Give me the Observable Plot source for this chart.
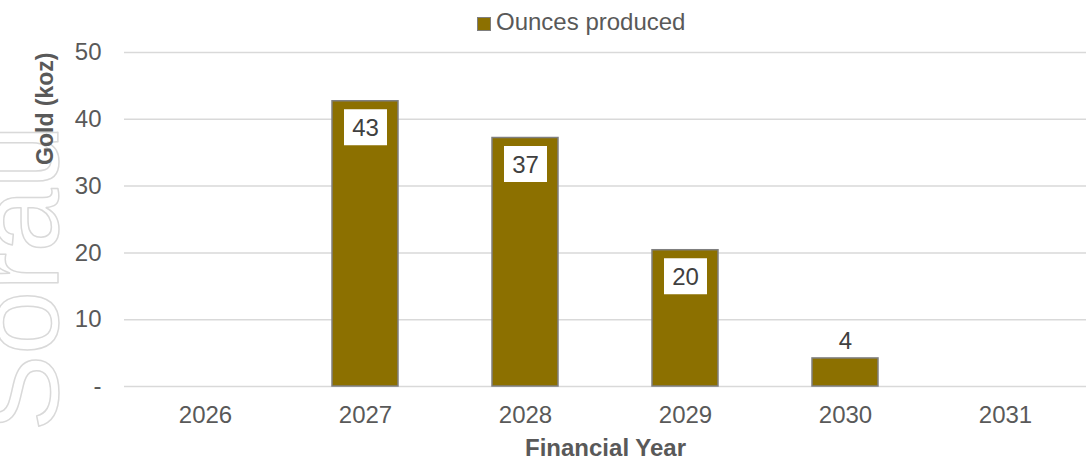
<!DOCTYPE html>
<html>
<head>
<meta charset="utf-8">
<script src="https://cdn.jsdelivr.net/npm/d3@7"></script>
<script src="https://cdn.jsdelivr.net/npm/@observablehq/plot@0.6"></script>
<style>
  html, body { margin: 0; padding: 0; background: #fff; }
  #wrap { position: relative; width: 1086px; height: 460px; overflow: hidden; font-family: "Liberation Sans", Arial, sans-serif; }
  #legend { position: absolute; left: 477px; top: 8px; display: flex; align-items: center; font-size: 24px; color: #595959; line-height: 28px; }
  #legend .sw { width: 12px; height: 12px; background: #8c7000; border: 1px solid #7f7f7f; margin-right: 5px; position: relative; top: 2px; }
</style>
</head>
<body>
<div id="wrap">
  <div id="legend"><span class="sw"></span><span>Ounces produced</span></div>
</div>
<script>
const years = ["2026", "2027", "2028", "2029", "2030", "2031"];
const ounces = [null, 42.7, 37.2, 20.4, 4.2, null];
const yTicks = [0, 10, 20, 30, 40, 50];
const seriesName = "Ounces produced";
const xTitle = "Financial Year";
const yTitle = "Gold (koz)";
const watermark = "Sorau";

const data = years.map((year, i) => ({year, value: ounces[i]}));
const shown = data.filter(d => d.value != null);
const big = shown.filter(d => d.value >= 10);
const small = shown.filter(d => d.value < 10);

const boxSymbol = { draw(context) { context.rect(-21.5, -18, 43, 36); } };
const font = '"Liberation Sans", Arial, sans-serif';

const chart = Plot.plot({
  width: 1086,
  height: 460,
  marginTop: 52,
  marginBottom: 74,
  marginLeft: 124,
  marginRight: 0,
  style: { fontFamily: font, fontSize: "24px", color: "#595959", background: "transparent", overflow: "visible" },
  x: { domain: years, paddingInner: 0.59, paddingOuter: 0.295, label: null },
  y: { domain: [0, 50], label: null },
  marks: [
    Plot.text([watermark], {
      frameAnchor: "bottom-left", dx: -67, dy: 45, rotate: -90,
      textAnchor: "start", lineAnchor: "bottom",
      fontSize: 115, fill: "none", stroke: "#d9d9d9", strokeWidth: 1.5
    }),
    Plot.ruleY(yTicks, { stroke: "#d9d9d9", strokeWidth: 1.5 }),
    Plot.axisY({ ticks: yTicks, tickSize: 0, tickPadding: 23, tickFormat: d => d === 0 ? "-" : d, fontSize: 24, fill: "#595959", label: null }),
    Plot.axisX({ tickSize: 0, tickPadding: 19, fontSize: 24, fill: "#595959", label: null }),
    Plot.barY(shown, { x: "year", y: "value", fill: "#8c7000", stroke: "#7f7f7f", strokeWidth: 1.5 }),
    Plot.dot(big, { x: "year", y: "value", symbol: boxSymbol, fill: "white", stroke: "none", dy: 26 }),
    Plot.text(big, { x: "year", y: "value", text: d => Math.round(d.value), dy: 27, fontSize: 24, fill: "#404040", lineAnchor: "middle" }),
    Plot.text(small, { x: "year", y: "value", text: d => Math.round(d.value), dy: -17, fontSize: 24, fill: "#404040", lineAnchor: "middle" }),
    Plot.text([yTitle], {
      frameAnchor: "top-left", dx: -79, dy: 0, rotate: -90,
      textAnchor: "end", lineAnchor: "middle",
      fontSize: 23, fontWeight: "bold", fill: "#595959"
    }),
    Plot.text([xTitle], {
      frameAnchor: "bottom", dy: 62, lineAnchor: "middle",
      fontSize: 24, fontWeight: "bold", fill: "#595959"
    })
  ]
});
chart.style.position = "absolute";
chart.style.left = "0";
chart.style.top = "0";
const wrap = document.getElementById("wrap");
wrap.insertBefore(chart, wrap.firstChild);
</script>
</body>
</html>
